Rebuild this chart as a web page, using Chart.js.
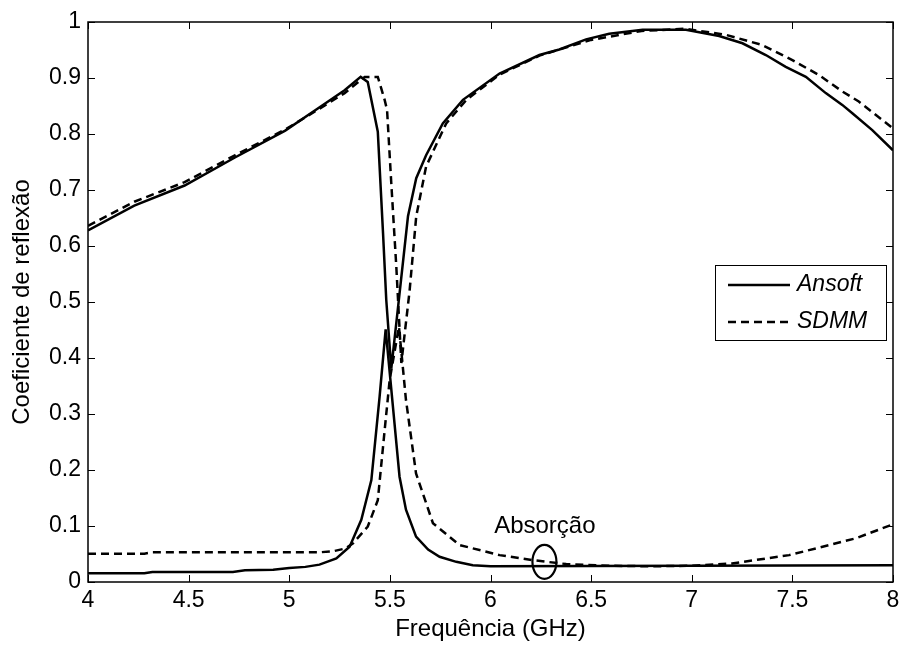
<!DOCTYPE html>
<html>
<head>
<meta charset="utf-8">
<script src="https://cdn.jsdelivr.net/npm/chart.js@4"></script>
<style>
  html, body { margin: 0; padding: 0; background: #fff; }
  #wrap { width: 906px; height: 651px; }
</style>
</head>
<body>
<div id="wrap"><canvas id="refl-chart" width="906" height="651"></canvas></div>
<script>
/* ===================== DATA ===================== */

// Ansoft – reflection curve (upper)
const ansoftReflFreq = [4.0, 4.23, 4.48, 4.73, 4.98, 5.14, 5.275, 5.355, 5.39, 5.44, 5.466, 5.482, 5.507, 5.548, 5.59, 5.631, 5.68, 5.763, 5.863, 6.045, 6.243, 6.342, 6.475, 6.59, 6.756, 6.971, 7.136, 7.252, 7.368, 7.467, 7.567, 7.666, 7.748, 7.798, 7.897, 8.0];
const ansoftRefl     = [0.628, 0.672, 0.708, 0.758, 0.806, 0.845, 0.878, 0.902, 0.893, 0.804, 0.623, 0.504, 0.381, 0.515, 0.653, 0.721, 0.762, 0.819, 0.861, 0.908, 0.941, 0.951, 0.969, 0.979, 0.986, 0.986, 0.975, 0.962, 0.941, 0.920, 0.902, 0.873, 0.852, 0.837, 0.807, 0.771];

// Ansoft – lower curve (peak near 5.5 GHz)
const ansoftLowFreq = [4.0, 4.28, 4.32, 4.72, 4.78, 4.92, 5.0, 5.08, 5.15, 5.234, 5.3, 5.358, 5.408, 5.449, 5.479, 5.548, 5.58, 5.63, 5.69, 5.747, 5.83, 5.912, 6.0, 7.0, 8.0];
const ansoftLow     = [0.0155, 0.0155, 0.018, 0.018, 0.021, 0.022, 0.025, 0.027, 0.031, 0.042, 0.063, 0.111, 0.182, 0.331, 0.451, 0.188, 0.129, 0.081, 0.058, 0.045, 0.036, 0.030, 0.028, 0.029, 0.030];

// SDMM – reflection curve (upper)
const sdmmReflFreq = [4.0, 4.23, 4.48, 4.73, 4.98, 5.14, 5.275, 5.375, 5.44, 5.474, 5.486, 5.507, 5.532, 5.557, 5.598, 5.631, 5.68, 5.78, 5.88, 6.045, 6.243, 6.5, 6.75, 6.97, 7.04, 7.17, 7.35, 7.5, 7.633, 7.748, 7.83, 8.0];
const sdmmRefl     = [0.636, 0.679, 0.714, 0.762, 0.808, 0.843, 0.873, 0.902, 0.902, 0.861, 0.843, 0.712, 0.563, 0.391, 0.52, 0.653, 0.742, 0.819, 0.861, 0.906, 0.94, 0.968, 0.984, 0.988, 0.984, 0.977, 0.959, 0.932, 0.905, 0.876, 0.858, 0.810];

// SDMM – lower curve
const sdmmLowFreq = [4.0, 4.28, 4.32, 5.15, 5.22, 5.28, 5.317, 5.39, 5.44, 5.474, 5.499, 5.545, 5.58, 5.63, 5.714, 5.846, 6.045, 6.21, 6.376, 6.6, 6.8, 7.0, 7.2, 7.484, 7.65, 7.815, 8.0];
const sdmmLow     = [0.0505, 0.0505, 0.053, 0.053, 0.055, 0.06, 0.069, 0.099, 0.146, 0.271, 0.361, 0.456, 0.325, 0.194, 0.105, 0.066, 0.048, 0.039, 0.032, 0.029, 0.028, 0.029, 0.033, 0.048, 0.063, 0.078, 0.103];

// axes
const xTicks = [4, 4.5, 5, 5.5, 6, 6.5, 7, 7.5, 8];
const yTicks = [0, 0.1, 0.2, 0.3, 0.4, 0.5, 0.6, 0.7, 0.8, 0.9, 1];
const xTitle = "Frequência (GHz)";
const yTitle = "Coeficiente de reflexão";
const seriesNames = ["Ansoft", "SDMM"];

// annotation
const noteText = "Absorção";
const notePos = { x: 6.27, y: 0.1 };
const ringPos = { x: 6.268, y: 0.036 };

/* ===================== STYLE ===================== */

const FONT = "'Liberation Sans', Arial, sans-serif";
const DASH = [8, 5];
const LINE_W = 2.5;

const zip = (xs, ys) => xs.map((x, i) => ({ x, y: ys[i] }));

// 4 -> "4", 4.5 -> "4.5", 0.30000001 -> "0.3"
const fmt = (v) => String(Math.round(v * 10) / 10);

function lineSet(label, xs, ys, dashed, inLegend) {
  return {
    label,
    data: zip(xs, ys),
    borderColor: "#000",
    borderWidth: LINE_W,
    borderDash: dashed ? DASH : [],
    pointRadius: 0,
    tension: 0,
    fill: false,
    inLegend,
  };
}

/* ===================== PLUGINS ===================== */

// MATLAB style box with inward ticks on all four sides
const boxPlugin = {
  id: "boxFrame",
  afterDatasetsDraw(chart) {
    const { ctx, chartArea: a, scales } = chart;
    const tl = 7;
    ctx.save();
    ctx.strokeStyle = "#000";
    ctx.lineWidth = 1;
    ctx.beginPath();
    xTicks.forEach((v) => {
      const px = Math.round(scales.x.getPixelForValue(v)) + 0.5;
      ctx.moveTo(px, a.bottom); ctx.lineTo(px, a.bottom - tl);
      ctx.moveTo(px, a.top); ctx.lineTo(px, a.top + tl);
    });
    yTicks.forEach((v) => {
      const py = Math.round(scales.y.getPixelForValue(v)) + 0.5;
      ctx.moveTo(a.left, py); ctx.lineTo(a.left + tl, py);
      ctx.moveTo(a.right, py); ctx.lineTo(a.right - tl, py);
    });
    ctx.stroke();
    ctx.lineWidth = 1.5;
    ctx.strokeRect(a.left, a.top, a.right - a.left, a.bottom - a.top);
    ctx.restore();
  },
};

// "Absorção" label + ellipse
const notePlugin = {
  id: "absorcaoNote",
  afterDatasetsDraw(chart) {
    const { ctx, scales } = chart;
    ctx.save();
    ctx.fillStyle = "#000";
    ctx.font = `24px ${FONT}`;
    ctx.textAlign = "center";
    ctx.textBaseline = "middle";
    ctx.fillText(noteText, scales.x.getPixelForValue(notePos.x), scales.y.getPixelForValue(notePos.y));
    ctx.beginPath();
    ctx.ellipse(scales.x.getPixelForValue(ringPos.x), scales.y.getPixelForValue(ringPos.y), 12, 17, 0, 0, Math.PI * 2);
    ctx.lineWidth = 2.2;
    ctx.strokeStyle = "#000";
    ctx.stroke();
    ctx.restore();
  },
};

// legend box inside the axes
const legendPlugin = {
  id: "boxLegend",
  afterDraw(chart) {
    const { ctx } = chart;
    const box = { x: 715, y: 265, w: 171, h: 75 };
    const items = chart.data.datasets.filter((d) => d.inLegend);
    ctx.save();
    ctx.fillStyle = "#fff";
    ctx.fillRect(box.x, box.y, box.w, box.h);
    ctx.strokeStyle = "#000";
    ctx.lineWidth = 1;
    ctx.strokeRect(box.x + 0.5, box.y + 0.5, box.w, box.h);
    ctx.font = `italic 23px ${FONT}`;
    ctx.textBaseline = "middle";
    ctx.fillStyle = "#000";
    items.forEach((d, i) => {
      const yy = box.y + 20 + i * 37;
      ctx.beginPath();
      ctx.setLineDash(d.borderDash);
      ctx.lineWidth = LINE_W;
      ctx.moveTo(box.x + 13, yy);
      ctx.lineTo(box.x + 75, yy);
      ctx.stroke();
      ctx.setLineDash([]);
      ctx.fillText(d.label, box.x + 82, yy);
    });
    ctx.restore();
  },
};

/* ===================== CHART ===================== */

const canvas = document.getElementById("refl-chart");

new Chart(canvas, {
  type: "line",
  data: {
    datasets: [
      lineSet(seriesNames[0], ansoftReflFreq, ansoftRefl, false, true),
      lineSet(seriesNames[0], ansoftLowFreq, ansoftLow, false, false),
      lineSet(seriesNames[1], sdmmReflFreq, sdmmRefl, true, true),
      lineSet(seriesNames[1], sdmmLowFreq, sdmmLow, true, false),
    ],
  },
  options: {
    responsive: false,
    animation: false,
    layout: { padding: { left: 0, top: 22, right: 13, bottom: 0 } },
    plugins: { legend: { display: false }, tooltip: { enabled: false } },
    scales: {
      x: {
        type: "linear",
        min: 4,
        max: 8,
        afterBuildTicks: (s) => { s.ticks = xTicks.map((v) => ({ value: v })); },
        afterFit: (s) => { s.height = 69; },
        grid: { display: false, drawTicks: false },
        border: { display: false },
        ticks: { color: "#000", font: { family: FONT, size: 23 }, padding: 5, maxRotation: 0, autoSkip: false, callback: fmt },
        title: { display: true, text: xTitle, color: "#000", font: { family: FONT, size: 24 }, padding: { top: 0, bottom: 7 } },
      },
      y: {
        type: "linear",
        min: 0,
        max: 1,
        afterBuildTicks: (s) => { s.ticks = yTicks.map((v) => ({ value: v })); },
        afterFit: (s) => { s.width = 88; },
        grid: { display: false, drawTicks: false },
        border: { display: false },
        ticks: { color: "#000", font: { family: FONT, size: 23 }, padding: 7, autoSkip: false, callback: fmt },
        title: { display: true, text: yTitle, color: "#000", font: { family: FONT, size: 24 }, padding: { top: 8, bottom: 0 } },
      },
    },
  },
  plugins: [boxPlugin, notePlugin, legendPlugin],
});
</script>
</body>
</html>
